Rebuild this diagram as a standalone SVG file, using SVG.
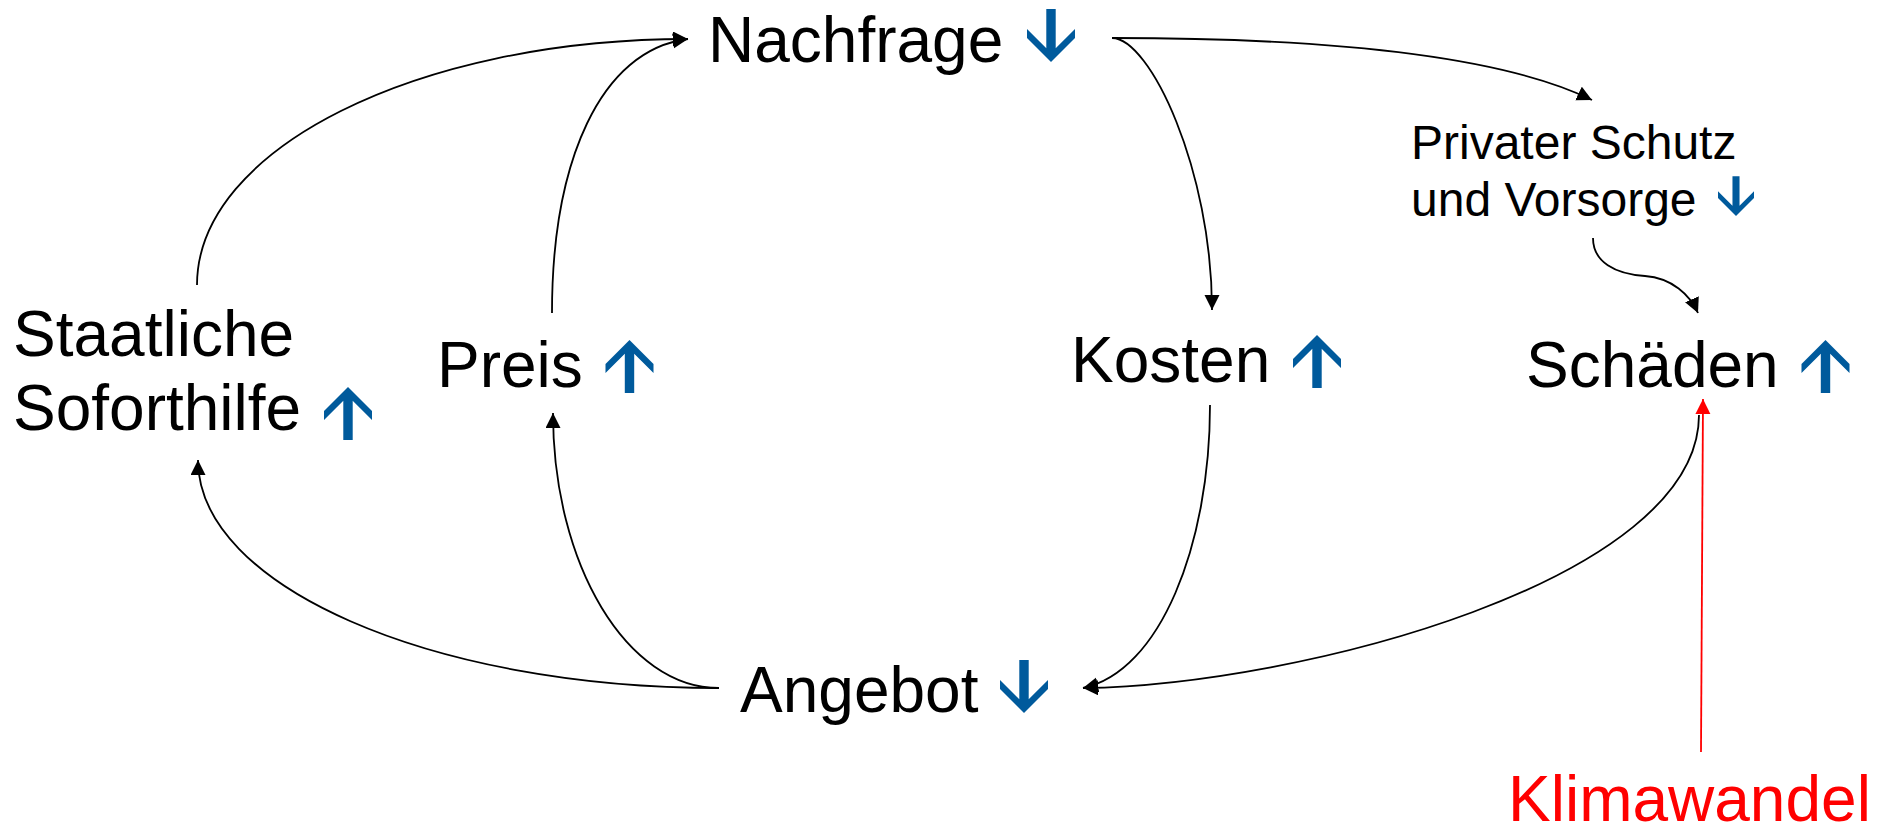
<svg xmlns="http://www.w3.org/2000/svg" width="1890" height="828" viewBox="0 0 1890 828">
<style>
text{font-family:"Liberation Sans",Arial,sans-serif;fill:#000}
.big{font-size:64px}
.small{font-size:48px}
.red{fill:#FF0000}
.con{fill:none;stroke:#000;stroke-width:1.8}
.conr{fill:none;stroke:#FF0000;stroke-width:1.8}
.ind{fill:#005A9C}
</style>
<defs>
<marker id="ah" markerUnits="userSpaceOnUse" markerWidth="16" markerHeight="16" refX="15" refY="7.5" orient="auto">
<path d="M0,0 L15,7.5 L0,15 z" fill="#000"/>
</marker>
<marker id="ahr" markerUnits="userSpaceOnUse" markerWidth="16" markerHeight="16" refX="15" refY="7.5" orient="auto">
<path d="M0,0 L15,7.5 L0,15 z" fill="#FF0000"/>
</marker>
<polygon id="up" points="0,0 24,24 24,33 4.7,13.7 4.7,53 -4.7,53 -4.7,13.7 -24,33 -24,24"/>
</defs>
<g id="connectors">
<path class="con" marker-end="url(#ah)" d="M197,285 C197,149 417,39 688,39"/>
<path class="con" marker-end="url(#ah)" d="M552,313 C552,162 600,50 688,39"/>
<path class="con" marker-end="url(#ah)" d="M1112,38 C1330,38 1500,55 1592,100"/>
<path class="con" marker-end="url(#ah)" d="M1112,38 C1150,38 1212,170 1212,310"/>
<path class="con" marker-end="url(#ah)" d="M1593,238 C1593,262 1615,274 1645,276 C1672,278 1690,295 1698,313"/>
<path class="con" marker-end="url(#ah)" d="M1210,405 C1210,545 1160,672 1083,688"/>
<path class="con" marker-end="url(#ah)" d="M1699,415 C1699,580 1300,685 1083,688"/>
<path class="con" marker-end="url(#ah)" d="M719,688 C627,688 553,565 553,413"/>
<path class="con" marker-end="url(#ah)" d="M719,688 C431,688 198,586 198,460"/>
<path class="conr" marker-end="url(#ahr)" d="M1701,752 L1703,399"/>
</g>
<g id="nachfrage">
<text class="big" x="708" y="62">Nachfrage</text>
<use href="#up" class="ind" transform="translate(1051,62) scale(1,-1)"/>
</g>
<g id="privater-schutz">
<text class="small" x="1411" y="159">Privater Schutz</text>
<text class="small" x="1411" y="216">und Vorsorge</text>
<use href="#up" class="ind" transform="translate(1736,216) scale(0.75,-0.75)"/>
</g>
<g id="staatliche-soforthilfe">
<text class="big" x="13" y="356">Staatliche</text>
<text class="big" x="13" y="430">Soforthilfe</text>
<use href="#up" class="ind" transform="translate(348,387)"/>
</g>
<g id="preis">
<text class="big" x="437" y="387">Preis</text>
<use href="#up" class="ind" transform="translate(629.5,340)"/>
</g>
<g id="kosten">
<text class="big" x="1071" y="382">Kosten</text>
<use href="#up" class="ind" transform="translate(1317,335)"/>
</g>
<g id="schaeden">
<text class="big" x="1526" y="387">Schäden</text>
<use href="#up" class="ind" transform="translate(1825.5,340)"/>
</g>
<g id="angebot">
<text class="big" x="740" y="712">Angebot</text>
<use href="#up" class="ind" transform="translate(1024,713) scale(1,-1)"/>
</g>
<g id="klimawandel">
<text class="big red" x="1508" y="821">Klimawandel</text>
</g>
</svg>
